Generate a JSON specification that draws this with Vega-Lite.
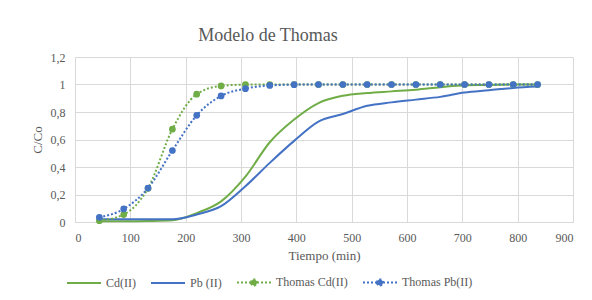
{
  "$schema": "https://vega.github.io/schema/vega-lite/v6.json",
  "width": 498,
  "height": 165,
  "autosize": {"type": "none"},
  "padding": {"left": 75, "top": 57, "right": 19, "bottom": 78},
  "background": "white",
  "config": {
    "font": "Liberation Serif",
    "view": {"stroke": null},
    "axis": {
      "labelFont": "Liberation Serif",
      "titleFont": "Liberation Serif",
      "labelColor": "#595959",
      "titleColor": "#595959",
      "labelFontSize": 12,
      "titleFontSize": 13,
      "titleFontWeight": "normal",
      "gridColor": "#d9d9d9",
      "gridWidth": 1,
      "ticks": false,
      "labelPadding": 10
    },
    "legend": {
      "labelFont": "Liberation Serif",
      "labelFontSize": 12,
      "labelColor": "#595959"
    }
  },
  "title": {
    "text": "Modelo de Thomas",
    "font": "Liberation Serif",
    "fontSize": 18,
    "fontWeight": "normal",
    "color": "#595959",
    "anchor": "middle",
    "dx": -56,
    "offset": 6
  },
  "data": {
    "values": [
      {"serie": "Cd(II)", "t": 44, "v": 0.005},
      {"serie": "Cd(II)", "t": 88, "v": 0.005},
      {"serie": "Cd(II)", "t": 132, "v": 0.007},
      {"serie": "Cd(II)", "t": 176, "v": 0.012},
      {"serie": "Cd(II)", "t": 220, "v": 0.065},
      {"serie": "Cd(II)", "t": 264, "v": 0.15},
      {"serie": "Cd(II)", "t": 308, "v": 0.33},
      {"serie": "Cd(II)", "t": 352, "v": 0.58},
      {"serie": "Cd(II)", "t": 396, "v": 0.745},
      {"serie": "Cd(II)", "t": 440, "v": 0.865},
      {"serie": "Cd(II)", "t": 484, "v": 0.918},
      {"serie": "Cd(II)", "t": 528, "v": 0.938},
      {"serie": "Cd(II)", "t": 572, "v": 0.95},
      {"serie": "Cd(II)", "t": 616, "v": 0.962},
      {"serie": "Cd(II)", "t": 660, "v": 0.98},
      {"serie": "Cd(II)", "t": 704, "v": 0.995},
      {"serie": "Cd(II)", "t": 748, "v": 0.997},
      {"serie": "Cd(II)", "t": 792, "v": 1.0},
      {"serie": "Cd(II)", "t": 836, "v": 1.0},
      {"serie": "Pb (II)", "t": 44, "v": 0.02},
      {"serie": "Pb (II)", "t": 88, "v": 0.02},
      {"serie": "Pb (II)", "t": 132, "v": 0.02},
      {"serie": "Pb (II)", "t": 176, "v": 0.02},
      {"serie": "Pb (II)", "t": 220, "v": 0.055},
      {"serie": "Pb (II)", "t": 264, "v": 0.115},
      {"serie": "Pb (II)", "t": 308, "v": 0.26},
      {"serie": "Pb (II)", "t": 352, "v": 0.43},
      {"serie": "Pb (II)", "t": 396, "v": 0.59},
      {"serie": "Pb (II)", "t": 440, "v": 0.73},
      {"serie": "Pb (II)", "t": 484, "v": 0.785},
      {"serie": "Pb (II)", "t": 528, "v": 0.845},
      {"serie": "Pb (II)", "t": 572, "v": 0.87},
      {"serie": "Pb (II)", "t": 616, "v": 0.89},
      {"serie": "Pb (II)", "t": 660, "v": 0.91},
      {"serie": "Pb (II)", "t": 704, "v": 0.942},
      {"serie": "Pb (II)", "t": 748, "v": 0.958},
      {"serie": "Pb (II)", "t": 792, "v": 0.975},
      {"serie": "Pb (II)", "t": 836, "v": 0.985},
      {"serie": "Thomas Cd(II)", "t": 44, "v": 0.01},
      {"serie": "Thomas Cd(II)", "t": 88, "v": 0.054},
      {"serie": "Thomas Cd(II)", "t": 132, "v": 0.245},
      {"serie": "Thomas Cd(II)", "t": 176, "v": 0.675},
      {"serie": "Thomas Cd(II)", "t": 220, "v": 0.93},
      {"serie": "Thomas Cd(II)", "t": 264, "v": 0.99},
      {"serie": "Thomas Cd(II)", "t": 308, "v": 0.999},
      {"serie": "Thomas Cd(II)", "t": 352, "v": 1.0},
      {"serie": "Thomas Cd(II)", "t": 396, "v": 1.0},
      {"serie": "Thomas Cd(II)", "t": 440, "v": 1.0},
      {"serie": "Thomas Cd(II)", "t": 484, "v": 1.0},
      {"serie": "Thomas Cd(II)", "t": 528, "v": 1.0},
      {"serie": "Thomas Cd(II)", "t": 572, "v": 1.0},
      {"serie": "Thomas Cd(II)", "t": 616, "v": 1.0},
      {"serie": "Thomas Cd(II)", "t": 660, "v": 1.0},
      {"serie": "Thomas Cd(II)", "t": 704, "v": 1.0},
      {"serie": "Thomas Cd(II)", "t": 748, "v": 1.0},
      {"serie": "Thomas Cd(II)", "t": 792, "v": 1.0},
      {"serie": "Thomas Cd(II)", "t": 836, "v": 1.0},
      {"serie": "Thomas Pb(II)", "t": 44, "v": 0.034},
      {"serie": "Thomas Pb(II)", "t": 88, "v": 0.095},
      {"serie": "Thomas Pb(II)", "t": 132, "v": 0.247},
      {"serie": "Thomas Pb(II)", "t": 176, "v": 0.52},
      {"serie": "Thomas Pb(II)", "t": 220, "v": 0.776},
      {"serie": "Thomas Pb(II)", "t": 264, "v": 0.917},
      {"serie": "Thomas Pb(II)", "t": 308, "v": 0.97},
      {"serie": "Thomas Pb(II)", "t": 352, "v": 0.993},
      {"serie": "Thomas Pb(II)", "t": 396, "v": 0.999},
      {"serie": "Thomas Pb(II)", "t": 440, "v": 1.0},
      {"serie": "Thomas Pb(II)", "t": 484, "v": 1.0},
      {"serie": "Thomas Pb(II)", "t": 528, "v": 1.0},
      {"serie": "Thomas Pb(II)", "t": 572, "v": 1.0},
      {"serie": "Thomas Pb(II)", "t": 616, "v": 1.0},
      {"serie": "Thomas Pb(II)", "t": 660, "v": 1.0},
      {"serie": "Thomas Pb(II)", "t": 704, "v": 1.0},
      {"serie": "Thomas Pb(II)", "t": 748, "v": 1.0},
      {"serie": "Thomas Pb(II)", "t": 792, "v": 1.0},
      {"serie": "Thomas Pb(II)", "t": 836, "v": 1.0}
    ]
  },
  "encoding": {
    "x": {
      "field": "t",
      "type": "quantitative",
      "title": "Tiempo (min)",
      "scale": {"domain": [0, 900], "nice": false},
      "axis": {
        "values": [0, 100, 200, 300, 400, 500, 600, 700, 800, 900],
        "domain": true,
        "domainColor": "#d9d9d9",
        "titlePadding": 6
      }
    },
    "y": {
      "field": "v",
      "type": "quantitative",
      "title": "C/Co",
      "scale": {"domain": [0, 1.2], "nice": false},
      "axis": {
        "values": [0, 0.2, 0.4, 0.6, 0.8, 1, 1.2],
        "domain": false,
        "labelExpr": "replace(format(datum.value, '~g'), '.', ',')",
        "titlePadding": 6
      }
    },
    "color": {
      "field": "serie",
      "type": "nominal",
      "scale": {
        "domain": ["Cd(II)", "Pb (II)", "Thomas Cd(II)", "Thomas Pb(II)"],
        "range": ["#70AD47", "#4472C4", "#70AD47", "#4472C4"]
      },
      "legend": {
        "title": null,
        "orient": "none",
        "direction": "horizontal",
        "legendX": -9,
        "legendY": 207,
        "symbolType": "stroke",
        "symbolSize": 1156,
        "symbolStrokeWidth": 2,
        "labelOffset": 4,
        "columnPadding": 11,
        "encode": {
          "symbols": {
            "update": {
              "shape": [
                {"test": "indexof(datum.value, 'Thomas') >= 0", "value": "M-1,0H1M-0.18,0a0.18,0.18 0 1,1 0.36,0a0.18,0.18 0 1,1 -0.36,0"},
                {"value": "stroke"}
              ],
              "fill": {"scale": "color", "field": "value"},
              "strokeDash": [
                {"test": "indexof(datum.value, 'Thomas') >= 0", "value": [2, 2]},
                {"value": [1, 0]}
              ]
            }
          }
        }
      }
    }
  },
  "layer": [
    {
      "transform": [{"filter": "indexof(datum.serie, 'Thomas') < 0"}],
      "mark": {"type": "line", "interpolate": "monotone", "strokeWidth": 2}
    },
    {
      "transform": [{"filter": "indexof(datum.serie, 'Thomas') >= 0"}],
      "mark": {
        "type": "line",
        "interpolate": "monotone",
        "strokeWidth": 2,
        "strokeDash": [2, 2],
        "point": {"filled": true, "size": 45}
      }
    }
  ]
}
